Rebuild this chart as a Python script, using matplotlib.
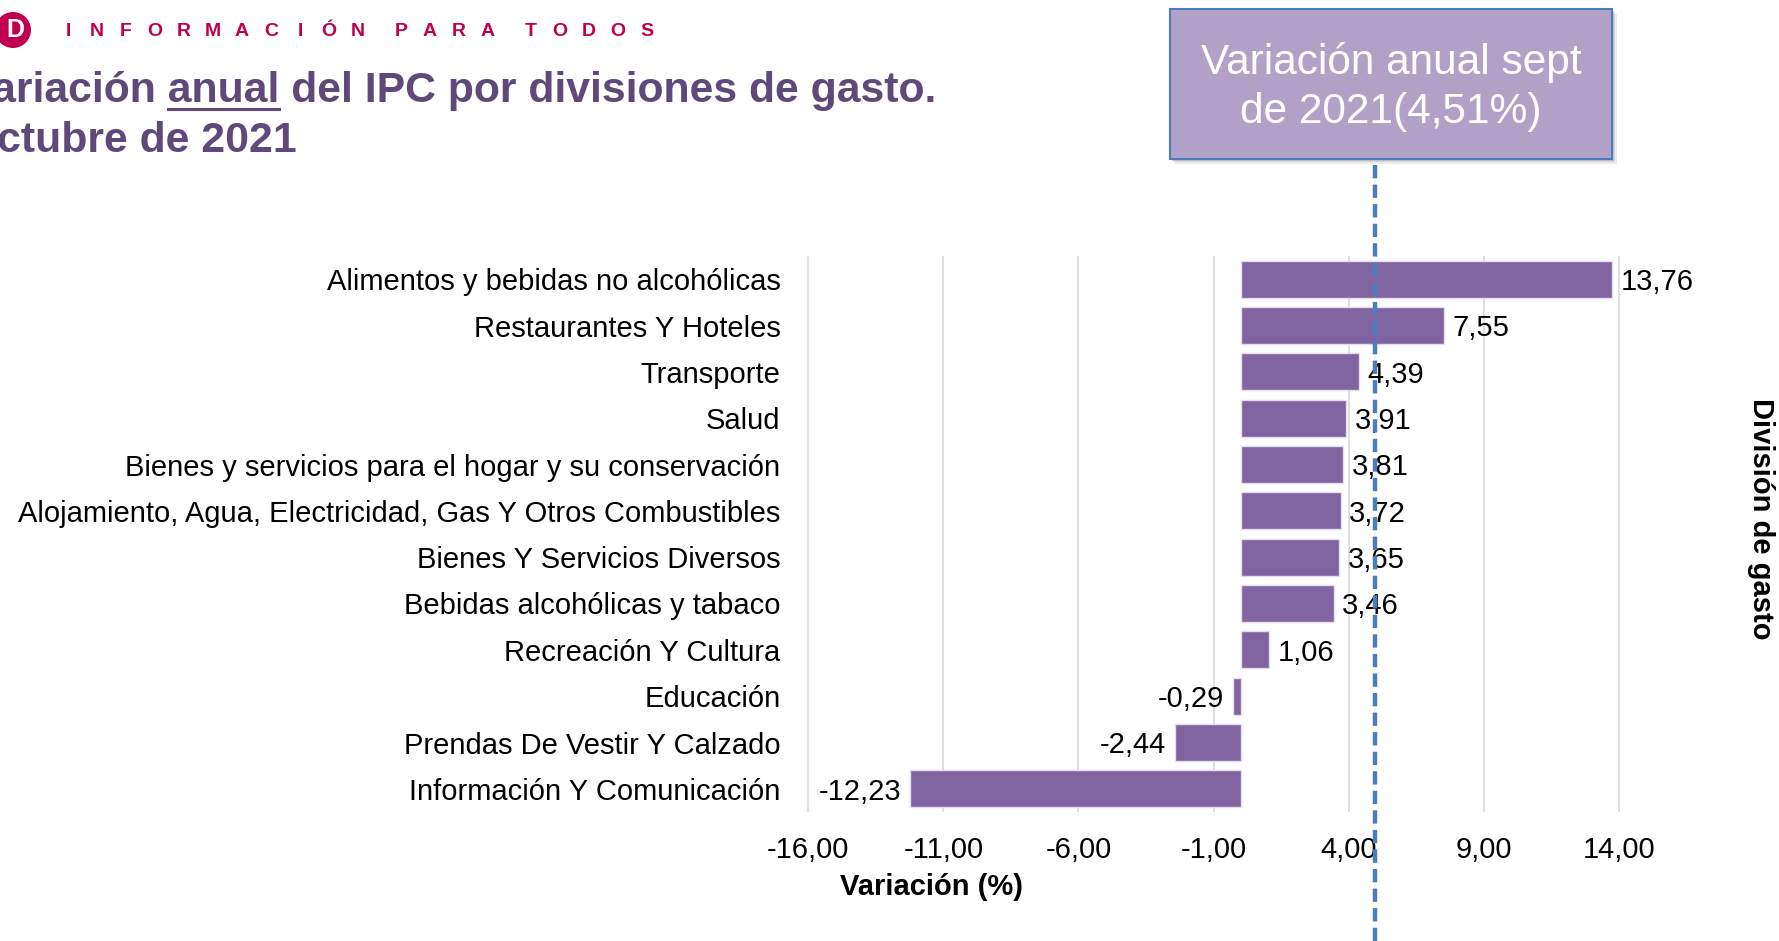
import matplotlib
matplotlib.use("Agg")
import matplotlib.pyplot as plt
from matplotlib.patches import Ellipse, Rectangle
from matplotlib.lines import Line2D

plt.rcParams['font.family'] = ['Liberation Sans', 'DejaVu Sans']

categorias = [
    "Alimentos y bebidas no alcohólicas",
    "Restaurantes Y Hoteles",
    "Transporte",
    "Salud",
    "Bienes y servicios para el hogar y su conservación",
    "Alojamiento, Agua, Electricidad, Gas Y Otros Combustibles",
    "Bienes Y Servicios Diversos",
    "Bebidas alcohólicas y tabaco",
    "Recreación Y Cultura",
    "Educación",
    "Prendas De Vestir Y Calzado",
    "Información Y Comunicación",
]
variacion = [13.76, 7.55, 4.39, 3.91, 3.81, 3.72, 3.65, 3.46, 1.06, -0.29, -2.44, -12.23]
x_ticks = [-16, -11, -6, -1, 4, 9, 14]

W, H = 1779, 941
PURPLE = '#8064A2'
TITLE_C = '#5F497A'
RED = '#C0004E'

fig = plt.figure(figsize=(W / 100, H / 100), dpi=100)
ax = fig.add_axes([807 / W, 1 - 812 / H, (1620 - 807) / W, (812 - 256) / H])

pos = list(range(len(categorias)))
ax.barh(pos, variacion, height=0.8, color=PURPLE, edgecolor='#E4DDEB', linewidth=1, zorder=2)
ax.set_ylim(len(categorias) - 0.5, -0.5)
ax.set_xlim(-16.05, 14.05)
ax.set_yticks(pos)
ax.set_yticklabels(categorias, fontsize=21)
ax.set_xticks(x_ticks)
ax.set_xticklabels([f"{t:.2f}".replace(".", ",") for t in x_ticks], fontsize=21)
ax.tick_params(axis='y', length=0, pad=19)
ax.tick_params(axis='x', length=0, pad=17)
ax.grid(axis='x', color='#D9D9D9', linewidth=1.2, zorder=0)
ax.set_axisbelow(True)
for s in ax.spines.values():
    s.set_visible(False)

for p, v in zip(pos, variacion):
    lbl = f"{v:.2f}".replace(".", ",")
    if v >= 0:
        ax.annotate(lbl, (v, p), xytext=(6, -2), textcoords='offset points',
                    ha='left', va='center', fontsize=21)
    else:
        ax.annotate(lbl, (v, p), xytext=(-6, -2), textcoords='offset points',
                    ha='right', va='center', fontsize=21)

# axis titles
fig.text(931 / W, 1 - 887 / H, "Variación (%)", ha='center', va='center',
         fontsize=21, fontweight='bold')
fig.text(1761 / W, 1 - 519 / H, "División de gasto", ha='center', va='center',
         rotation=270, fontsize=21, fontweight='bold')

# header: logo + spaced text
fig.patches.append(Ellipse((13 / W, 1 - 30 / H), 36 / W, 36 / H, transform=fig.transFigure,
                           facecolor=RED, edgecolor='none'))
fig.text(15 / W, 1 - 30 / H, "D", ha='center', va='center', color='white',
         fontsize=18, fontweight='bold')
header = "INFORMACIÓN PARA TODOS"
x = 68
for ch in header:
    if ch == " ":
        x += 14
        continue
    fig.text(x / W, 1 - 31 / H, ch, ha='center', va='center', color=RED,
             fontsize=14, fontweight='bold')
    x += 29

# title with underlined word
FS = 30.8
title1 = "Variación anual del IPC por divisiones de gasto."
tx, ty = -34, 102
fig.text(tx / W, 1 - ty / H, title1, ha='left', va='baseline', fontsize=FS,
         fontweight='bold', color=TITLE_C)
fig.text(-36 / W, 1 - 152 / H, "Octubre de 2021", ha='left', va='baseline', fontsize=FS,
         fontweight='bold', color=TITLE_C)
fig.canvas.draw()
r = fig.canvas.get_renderer()


def width_of(s):
    tmp = fig.text(0, 0, s, fontsize=FS, fontweight='bold')
    w = tmp.get_window_extent(r).width
    tmp.remove()
    return w


u0 = tx + width_of("Variación a") - width_of("a")
u1 = tx + width_of("Variación anual")
fig.lines.append(Line2D([u0 / W, u1 / W], [1 - (ty + 7) / H] * 2, transform=fig.transFigure,
                        color=TITLE_C, linewidth=2.2))

# annotation box with dashed reference line
for off, a in [(5, 0.25), (3, 0.35), (1.5, 0.45)]:
    fig.patches.append(Rectangle(((1170 + off) / W, 1 - (159 + off) / H), (1612 - 1170) / W,
                                 150 / H, transform=fig.transFigure, facecolor='#B0B0B0',
                                 edgecolor='none', alpha=a, zorder=1))
fig.patches.append(Rectangle((1170 / W, 1 - 159 / H), (1612 - 1170) / W, 150 / H,
                             transform=fig.transFigure, facecolor='#B2A1C7',
                             edgecolor='#4A7EBB', linewidth=1.5, zorder=2))
fig.text(1391 / W, 1 - 87 / H, "Variación anual sept\nde 2021(4,51%)", ha='center',
         va='center', color='white', fontsize=30.5, linespacing=1.3, zorder=3)
fig.lines.append(Line2D([1375 / W] * 2, [0, 1 - 159 / H], transform=fig.transFigure,
                        color='#4A7EBB', linewidth=3.2, linestyle=(0, (3, 1.4)), zorder=5))

fig.savefig("out.png", dpi=100)
